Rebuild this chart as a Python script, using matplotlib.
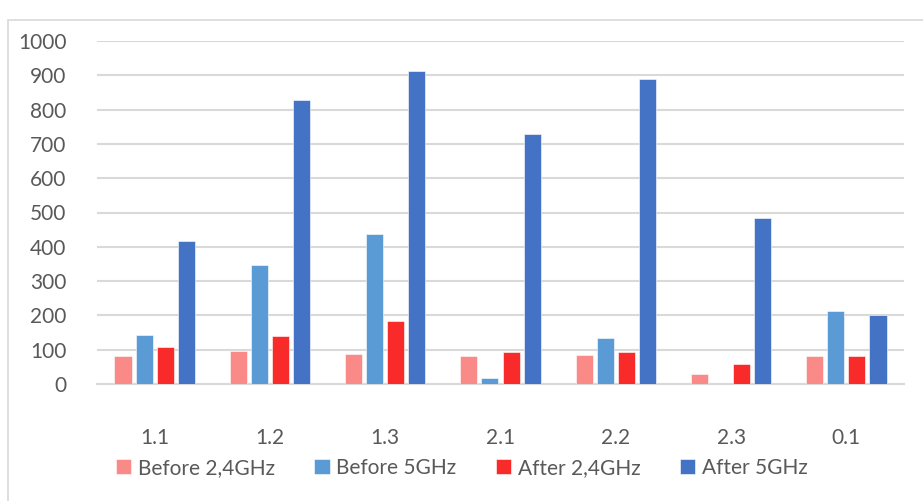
import matplotlib
matplotlib.use("Agg")
import matplotlib.pyplot as plt
import numpy as np
from matplotlib.patches import Rectangle

categories = ["1.1", "1.2", "1.3", "2.1", "2.2", "2.3", "0.1"]
before_24 = [82, 97, 87, 81, 85, 30, 82]
before_5 = [142, 347, 437, 18, 134, 0, 212]
after_24 = [109, 139, 184, 92, 94, 58, 82]
after_5 = [417, 828, 913, 729, 890, 484, 202]
series_names = ["Before 2,4GHz", "Before 5GHz", "After 2,4GHz", "After 5GHz"]
colors = ["#F98A88", "#5B9BD5", "#F82A2A", "#4472C4"]
yticks = [0, 100, 200, 300, 400, 500, 600, 700, 800, 900, 1000]

plt.rcParams['font.family'] = ['Lato', 'DejaVu Sans']
W, H = 923, 501
fig = plt.figure(figsize=(W/100, H/100), dpi=100)
fig.patches.append(Rectangle((8/W, -0.1), 1.2, (H-20)/H + 0.1, transform=fig.transFigure,
                             fill=False, edgecolor="#D9D9D9", linewidth=1.2))
ax = fig.add_axes([97/W, 1-384/H, (904-97)/W, (384-41)/H])

x = np.arange(len(categories))
bw = 0.148
step = 0.183
for i, (vals, c, name) in enumerate(zip([before_24, before_5, after_24, after_5], colors, series_names)):
    ax.bar(x + (i-1.5)*step, vals, width=bw, color=c, label=name, edgecolor="white", linewidth=0.4, zorder=3)

ax.set_xlim(-0.5, len(categories)-0.5)
ax.set_ylim(0, 1000)
ax.set_yticks(yticks)
ax.set_xticks(x)
ax.set_xticklabels(categories)
ax.yaxis.grid(True, color="#D9D9D9", linewidth=1.5, zorder=0)
ax.set_axisbelow(True)
for s in ["top", "right", "left"]:
    ax.spines[s].set_visible(False)
ax.spines["bottom"].set_color("#D9D9D9")
ax.spines["bottom"].set_linewidth(1.5)
ax.tick_params(axis="both", length=0, labelsize=15, labelcolor="#595959")
ax.tick_params(axis="y", pad=22)
ax.tick_params(axis="x", pad=32)

leg = fig.legend(loc="center", bbox_to_anchor=(0.5, 1-468/H), ncol=4, frameon=False,
                 fontsize=15, handlelength=0.75, handleheight=0.75, handletextpad=0.3,
                 columnspacing=1.9)
for t in leg.get_texts():
    t.set_color("#595959")

fig.savefig("out.png", dpi=100)
